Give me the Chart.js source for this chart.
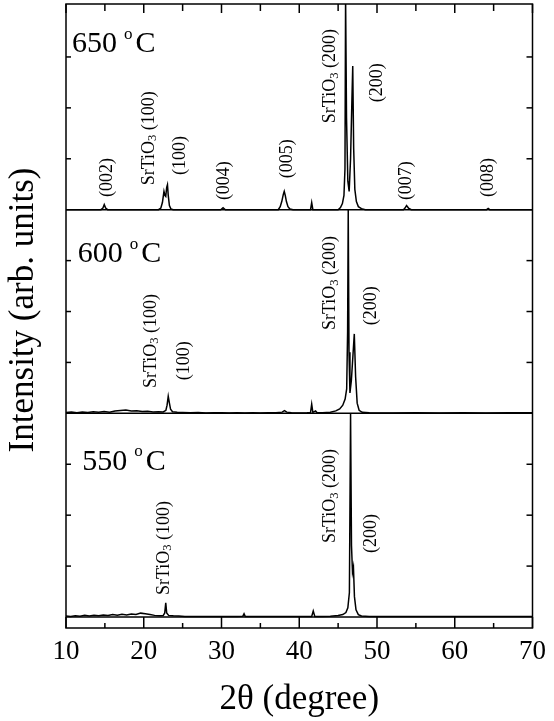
<!DOCTYPE html>
<html>
<head>
<meta charset="utf-8">
<script src="https://cdn.jsdelivr.net/npm/chart.js@4.4.1/dist/chart.umd.min.js"></script>
<style>
    html, body { margin: 0; padding: 0; background: #fff; }
    #wrap { width: 554px; height: 721px; }
</style>
</head>
<body>
<div id="wrap"><canvas id="xrd" width="554" height="721"></canvas></div>
<script>
// 2theta (deg), intensity (arb. units, 100 = one panel)
const scan650 = [
    [10, 0], [14.5, 0], [14.75, 0.8], [14.92, 2.5], [15.1, 0.8], [15.35, 0],
    [21.9, 0], [22.2, 0.8], [22.4, 3.5], [22.6, 9], [22.72, 7], [22.83, 6.5], [22.95, 11],
    [23.05, 12.3], [23.15, 7], [23.3, 2], [23.5, 0.3], [23.8, 0],
    [29.9, 0], [30.2, 1], [30.5, 0],
    [37.3, 0], [37.55, 1.5], [37.75, 4], [37.95, 7.5], [38.07, 9], [38.2, 7], [38.35, 4],
    [38.55, 1.5], [38.8, 0.3], [39.2, 0],
    [41.45, 0], [41.6, 3.5], [41.75, 0],
    [45.0, 0], [45.3, 1], [45.55, 3], [45.75, 7], [45.88, 20], [45.96, 105], [46.08, 45],
    [46.25, 14], [46.42, 9], [46.6, 25], [46.78, 55], [46.88, 70.5], [47.0, 30], [47.15, 10],
    [47.35, 4], [47.6, 1.5], [48.0, 0.5], [48.5, 0],
    [53.4, 0], [53.6, 0.8], [53.8, 2], [54.05, 0.8], [54.4, 0],
    [64.1, 0], [64.3, 0.6], [64.5, 0], [70, 0]
];
const scan600 = [
    [10, 0.4], [10.7, 0.6], [11.4, 0.3], [12.1, 0.7], [12.8, 0.4], [13.5, 0.8], [14.2, 0.5],
    [14.9, 0.9], [15.6, 0.6], [16.3, 1.1], [17, 1.4], [17.7, 1.6], [18.4, 1.2], [19.1, 1.3],
    [19.8, 0.9], [20.5, 1], [21.2, 0.7], [21.9, 0.8], [22.5, 0.7], [22.85, 1.5], [23.0, 4],
    [23.15, 8.4], [23.3, 5], [23.45, 2], [23.7, 0.8], [24.3, 0.5], [25, 0.4], [26, 0.3],
    [27, 0.4], [28, 0.2], [29, 0.3], [30, 0.3], [31, 0.2], [32, 0.3], [33, 0.2], [34, 0.3],
    [35, 0.2], [36, 0.3], [37, 0.3], [37.8, 0.6], [38.1, 1.3], [38.4, 0.6], [39, 0.3],
    [40, 0.2], [41, 0.3], [41.45, 0.4], [41.6, 4.5], [41.75, 0.5], [42.1, 1.2], [42.3, 0.3],
    [43, 0.3], [44, 0.5], [44.7, 1.2], [45.2, 2.2], [45.6, 4], [45.9, 7], [46.1, 12],
    [46.22, 40], [46.3, 100], [46.4, 30], [46.52, 10], [46.7, 16], [46.9, 28], [47.08, 39],
    [47.25, 18], [47.45, 5], [47.7, 1.5], [48.1, 0.5], [49, 0.3], [52, 0.2], [55, 0.3],
    [58, 0.2], [61, 0.3], [64, 0.2], [67, 0.3], [70, 0.3]
];
const scan550 = [
    [10, 0.5], [10.6, 0.3], [11.2, 0.6], [11.8, 0.4], [12.4, 0.8], [13, 0.5], [13.6, 0.9],
    [14.2, 0.6], [14.8, 1.0], [15.4, 0.7], [16, 1.2], [16.6, 0.9], [17.2, 1.4], [17.8, 1.0],
    [18.4, 1.5], [19, 1.2], [19.6, 1.9], [20.2, 1.6], [20.8, 1.2], [21.4, 0.8], [22, 0.6],
    [22.5, 0.7], [22.7, 2], [22.83, 7], [22.95, 2], [23.2, 0.8], [23.8, 0.6], [24.5, 0.5],
    [25.3, 0.3], [26, 0.2], [28, 0.2], [30, 0.2], [32, 0.2], [32.75, 0.4], [32.9, 1.6],
    [33.05, 0.3], [34, 0.2], [36, 0.2], [38, 0.2], [40, 0.2], [41.6, 0.3], [41.8, 3],
    [42, 0.3], [43, 0.3], [44, 0.4], [45, 0.7], [45.6, 1.2], [46, 2.2], [46.25, 4.5],
    [46.45, 12], [46.6, 100], [46.72, 35], [46.85, 22], [46.97, 24.5], [47.1, 10],
    [47.3, 3.5], [47.6, 1.2], [48, 0.5], [49, 0.3], [52, 0.2], [56, 0.2], [60, 0.2],
    [64, 0.2], [70, 0.2]
];

const temperatures = ['650', '600', '550'];
const scans = { '650': scan650, '600': scan600, '550': scan550 };
const panelOffset = { '650': 200, '600': 100, '550': 0 };

const xTickLabels = [10, 20, 30, 40, 50, 60, 70];

// peak labels: [panel, text, 2theta, height above panel baseline]
const peakLabels = [
    ['650', '(002)', 15.36, 6.2],
    ['650', 'SrTiO3 (100)', 20.7, 12],
    ['650', '(100)', 24.75, 17],
    ['650', '(004)', 30.3, 4.7],
    ['650', '(005)', 38.4, 15.5],
    ['650', 'SrTiO3 (200)', 44.0, 42.5],
    ['650', '(200)', 50.0, 52.8],
    ['650', '(007)', 53.8, 4.7],
    ['650', '(008)', 64.3, 6.2],
    ['600', 'SrTiO3 (100)', 20.95, 12.4],
    ['600', '(100)', 25.2, 16.3],
    ['600', 'SrTiO3 (200)', 44.0, 40.9],
    ['600', '(200)', 49.3, 43.3],
    ['550', 'SrTiO3 (100)', 22.6, 10.8],
    ['550', 'SrTiO3 (200)', 44.05, 36.3],
    ['550', '(200)', 49.2, 31.4]
];
const tempLabelPos = { '650': [10.76, 77.4], '600': [11.5, 74.3], '550': [12.1, 72.2] };

const SERIF = '"Liberation Serif", "DejaVu Serif", serif';

function toPoints(scan, off) {
    return scan.map(p => ({ x: p[0], y: p[1] + off }));
}

function vText(ctx, px, py, text) {
    ctx.save();
    ctx.translate(px, py);
    ctx.rotate(-Math.PI / 2);
    ctx.textBaseline = 'middle';
    ctx.textAlign = 'left';
    let parts = [[text, false]];
    if (text.startsWith('SrTiO3')) {
        parts = [['SrTiO', false], ['3', true], [text.slice(6), false]];
    }
    let cx = 0;
    parts.forEach(([t, sub]) => {
        ctx.font = (sub ? '12.5px ' : '18px ') + SERIF;
        ctx.fillText(t, cx, sub ? 4 : 0);
        cx += ctx.measureText(t).width;
    });
    ctx.restore();
}

const decor = {
    id: 'decor',
    afterDatasetsDraw(chart) {
        const { ctx, chartArea: a, scales: { x, y } } = chart;
        ctx.save();
        ctx.strokeStyle = '#000';
        ctx.fillStyle = '#000';
        ctx.lineWidth = 1.5;
        const line = (x1, y1, x2, y2) => {
            ctx.beginPath(); ctx.moveTo(x1, y1); ctx.lineTo(x2, y2); ctx.stroke();
        };
        ctx.strokeRect(a.left, a.top, a.right - a.left, a.bottom - a.top);

        temperatures.forEach(t => {
            const py = y.getPixelForValue(panelOffset[t]);
            line(a.left, py, a.right, py);
        });

        const base = y.getPixelForValue(0);
        for (let t = 10; t <= 70; t += 5) {
            const px = x.getPixelForValue(t);
            const major = t % 10 === 0;
            line(px, a.bottom, px, major ? base : a.bottom - 5);
            line(px, a.top, px, a.top + (major ? 9 : 7));
        }
        temperatures.forEach(t => {
            [25, 50, 75].forEach(v => {
                const py = y.getPixelForValue(panelOffset[t] + v);
                line(a.left, py, a.left + 5, py);
                line(a.right, py, a.right - 6, py);
            });
        });

        // temperature labels
        temperatures.forEach(t => {
            const [tx, ty] = tempLabelPos[t];
            let px = x.getPixelForValue(tx);
            const py = y.getPixelForValue(panelOffset[t] + ty);
            ctx.textBaseline = 'alphabetic';
            ctx.textAlign = 'left';
            ctx.font = '30px ' + SERIF;
            ctx.fillText(t, px, py);
            px += ctx.measureText(t).width + 7;
            ctx.font = '17px ' + SERIF;
            ctx.fillText('o', px, py - 13.5);
            px += ctx.measureText('o').width + 3;
            ctx.font = '30px ' + SERIF;
            ctx.fillText('C', px, py);
        });

        peakLabels.forEach(([t, text, tx, ty]) => {
            vText(ctx, x.getPixelForValue(tx), y.getPixelForValue(panelOffset[t] + ty), text);
        });

        // axis titles
        ctx.font = '35px ' + SERIF;
        ctx.textAlign = 'center';
        ctx.textBaseline = 'middle';
        ctx.fillText('2\u03b8 (degree)', (a.left + a.right) / 2, 700);
        ctx.save();
        ctx.translate(24, 310);
        ctx.rotate(-Math.PI / 2);
        ctx.fillText('Intensity (arb. units)', 0, 0);
        ctx.restore();
        ctx.restore();
    }
};

new Chart(document.getElementById('xrd'), {
    type: 'line',
    data: {
        datasets: temperatures.map(t => ({
            label: t + ' \u00b0C',
            data: toPoints(scans[t], panelOffset[t]),
            borderColor: '#000',
            borderWidth: 1.5,
            pointRadius: 0,
            tension: 0,
            fill: false
        }))
    },
    options: {
        responsive: false,
        animation: false,
        devicePixelRatio: 1,
        layout: { padding: { top: 4, right: 17, left: 0, bottom: 0 } },
        plugins: { legend: { display: false }, tooltip: { enabled: false } },
        scales: {
            x: {
                type: 'linear',
                min: 10,
                max: 70,
                afterBuildTicks: s => { s.ticks = xTickLabels.map(v => ({ value: v })); },
                ticks: {
                    color: '#000',
                    font: { family: SERIF, size: 27 },
                    padding: 8,
                    maxRotation: 0,
                    autoSkip: false
                },
                grid: { display: false, drawTicks: false },
                border: { display: false },
                afterFit: s => { s.height = 93; }
            },
            y: {
                type: 'linear',
                min: -5.4,
                max: 301,
                ticks: { display: false },
                grid: { display: false, drawTicks: false },
                border: { display: false },
                afterFit: s => { s.width = 66; }
            }
        }
    },
    plugins: [decor]
});
</script>
</body>
</html>
